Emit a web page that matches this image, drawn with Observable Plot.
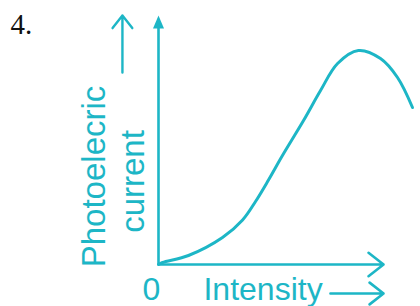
<!DOCTYPE html>
<html>
<head>
<meta charset="utf-8">
<script src="https://cdn.jsdelivr.net/npm/d3@7"></script>
<script src="https://cdn.jsdelivr.net/npm/@observablehq/plot@0.6"></script>
<style>
  html, body { margin: 0; padding: 0; background: #fff; }
  svg { overflow: visible; }
</style>
</head>
<body>
<div id="chart"></div>
<script>
// Curve (intensity vs photoelectric current, arbitrary units)
const intensity = [0, 0.16, 1.18, 2.52, 3.31, 3.82, 4.33, 4.88, 5.71, 6.38, 7.05, 7.87, 8.74, 9.41, 10];
const current   = [0, 0.08, 0.36, 1.08, 1.78, 2.52, 3.38, 4.36, 5.76, 6.96, 8.04, 8.56, 8.24, 7.48, 6.28];
const tickLabels = ["0"];
const xLabel = "Intensity";
const yLabelLines = ["Photoelecric", "current"];
const questionNumber = "4.";

const C = "#1db6c6";
const SANS = "Liberation Sans, Arial, Helvetica, sans-serif";

const curve = intensity.map((x, i) => ({x, y: current[i]}));

// custom filled arrowhead (narrow isosceles triangle)
const headSymbol = {
  draw(ctx) {
    ctx.moveTo(0, -9);
    ctx.lineTo(5.5, 4);
    ctx.lineTo(-5.5, 4);
    ctx.closePath();
  }
};

const plot = Plot.plot({
  width: 420,
  height: 306,
  marginLeft: 158,
  marginRight: 8,
  marginTop: 14,
  marginBottom: 42,
  x: {domain: [0, 10], axis: null},
  y: {domain: [0, 10], axis: null},
  style: {background: "transparent", overflow: "visible"},
  marks: [
    // y axis with filled head
    Plot.link([{x: 0, y1: 0, y2: 9.55}], {x1: "x", x2: "x", y1: "y1", y2: "y2", stroke: C, strokeWidth: 2.6}),
    Plot.dot([{x: 0, y: 9.6}], {x: "x", y: "y", symbol: headSymbol, fill: C, stroke: "none"}),
    // x axis with open head
    Plot.arrow([{x1: 0, y1: 0, x2: 8.86, y2: 0}], {x1: "x1", y1: "y1", x2: "x2", y2: "y2", stroke: C, strokeWidth: 2.6, headLength: 11, headAngle: 76}),
    // curve
    Plot.line(curve, {x: "x", y: "y", curve: "catmull-rom", stroke: C, strokeWidth: 3}),
    // tick label 0
    Plot.text(tickLabels, {x: [-0.28], y: [-1.4], text: d => d, fill: C, fontSize: 32, fontFamily: SANS, lineAnchor: "bottom", textAnchor: "middle"}),
    // x label + arrow
    Plot.text([xLabel], {x: [1.77], y: [-1.4], text: d => d, fill: C, fontSize: 32, fontFamily: SANS, lineAnchor: "bottom", textAnchor: "start"}),
    Plot.arrow([{x1: 6.77, y1: -1.16, x2: 8.86, y2: -1.16}], {x1: "x1", y1: "y1", x2: "x2", y2: "y2", stroke: C, strokeWidth: 2.6, headLength: 11, headAngle: 76}),
    // y label (rotated) + arrow
    Plot.text(yLabelLines, {x: [-2.09, -0.59], y: [3.52, 3.32], text: d => d, rotate: -90, fill: C, fontSize: 33, fontFamily: SANS, lineAnchor: "bottom", textAnchor: "middle"}),
    Plot.arrow([{x1: -1.42, y1: 7.68, x2: -1.42, y2: 9.96}], {x1: "x1", y1: "y1", x2: "x2", y2: "y2", stroke: C, strokeWidth: 2.4, headLength: 10, headAngle: 76}),
    // question number
    Plot.text([questionNumber], {x: [-5.83], y: [9.24], text: d => d, fill: "#111", fontSize: 29, fontFamily: "Liberation Serif, Times New Roman, serif", lineAnchor: "bottom", textAnchor: "start"})
  ]
});
document.getElementById("chart").appendChild(plot);
</script>
</body>
</html>
